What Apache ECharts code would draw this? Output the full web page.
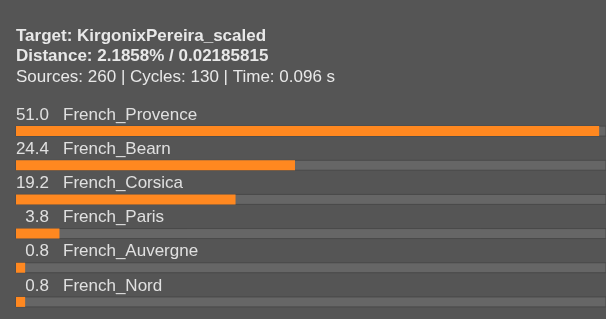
<!DOCTYPE html>
<html>
<head>
<meta charset="utf-8">
<script src="https://cdn.jsdelivr.net/npm/echarts@6/dist/echarts.min.js"></script>
<style>
  html, body { margin: 0; padding: 0; background: #555555; }
  #view { width: 606px; height: 319px; }
</style>
</head>
<body>
<div id="view"></div>
<script>
// populations and their share (%)
let names = ["French_Provence", "French_Bearn", "French_Corsica", "French_Paris", "French_Auvergne", "French_Nord"];
let values = [51.0, 24.4, 19.2, 3.8, 0.8, 0.8];
let titleLines = [
  "Target: KirgonixPereira_scaled",
  "Distance: 2.1858% / 0.02185815",
  "Sources: 260 | Cycles: 130 | Time: 0.096 s",
];

let font = "Arial, 'Liberation Sans', sans-serif";
let myChart = echarts.init(document.getElementById("view"), null, { renderer: "canvas" });

let titleStyle = (bold) => ({ color: "#e8e8e8", fontSize: 17, fontWeight: bold ? "bold" : "normal", fontFamily: font });
let labelStyle = { color: "#e0e0e0", fontSize: 17, fontFamily: font };

let option = {
  backgroundColor: "#555555",
  animation: false,
  title: [
    { text: titleLines[0], left: 16, top: 28, padding: 0, textStyle: titleStyle(true) },
    { text: titleLines[1], left: 16, top: 48, padding: 0, textStyle: titleStyle(true) },
    { text: titleLines[2], left: 16, top: 69, padding: 0, textStyle: titleStyle(false) },
  ],
  grid: { left: 16, right: 0, top: 114, bottom: -2 },
  xAxis: {
    type: "value",
    min: 0,
    max: 51.6,
    show: false,
  },
  yAxis: {
    type: "category",
    inverse: true,
    data: names,
    show: false,
  },
  series: [
    {
      // the bar itself, with the percentage right-aligned above its start
      type: "bar",
      data: values,
      barWidth: 10,
      itemStyle: { color: "#ff8820" },
      showBackground: true,
      backgroundStyle: { color: "#666666", borderColor: "#494949", borderWidth: 1 },
      label: {
        show: true,
        position: [33, -11],
        align: "right",
        verticalAlign: "middle",
        formatter: (p) => p.value.toFixed(1),
        ...labelStyle,
      },
    },
    {
      // invisible twin only carrying the population name
      type: "bar",
      data: values,
      barWidth: 10,
      barGap: "-100%",
      itemStyle: { color: "transparent" },
      silent: true,
      label: {
        show: true,
        position: [47, -11],
        align: "left",
        verticalAlign: "middle",
        formatter: (p) => names[p.dataIndex],
        ...labelStyle,
      },
    },
  ],
};
myChart.setOption(option);
</script>
</body>
</html>
